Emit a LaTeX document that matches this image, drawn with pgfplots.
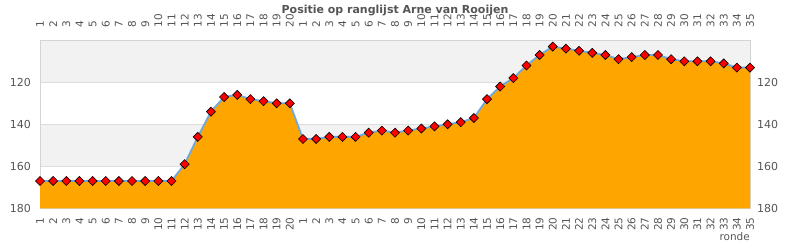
\documentclass[border=0pt]{standalone}
\usepackage{fontspec}
\setmainfont{DejaVu Sans}
\usepackage{pgfplots}
\pgfplotsset{compat=1.18}
\usepackage{pgfplotstable}
\definecolor{bandgray}{HTML}{F2F2F2}
\definecolor{gridgray}{HTML}{DCDCDC}
\definecolor{axgray}{HTML}{D4D4D4}
\definecolor{txtgray}{HTML}{555555}
\definecolor{areaorange}{HTML}{FFA500}
\definecolor{lineblue}{HTML}{6FA8DC}
\pgfplotstableread{
x y
1 167
2 167
3 167
4 167
5 167
6 167
7 167
8 167
9 167
10 167
11 167
12 159
13 146
14 134
15 127
16 126
17 128
18 129
19 130
20 130
21 147
22 147
23 146
24 146
25 146
26 144
27 143
28 144
29 143
30 142
31 141
32 140
33 139
34 137
35 128
36 122
37 118
38 112
39 107
40 103
41 104
42 105
43 106
44 107
45 109
46 108
47 107
48 107
49 109
50 110
51 110
52 110
53 111
54 113
55 113
}\data
\pgfplotsset{
  common/.style={
    scale only axis, width=710pt, height=168pt,
    xmin=1, xmax=55, ymin=100, ymax=180, y dir=reverse,
    xtick={1,...,55}, ytick={120,140,160,180},
    xticklabels={1,2,3,4,5,6,7,8,9,10,11,12,13,14,15,16,17,18,19,20,1,2,3,4,5,6,7,8,9,10,11,12,13,14,15,16,17,18,19,20,21,22,23,24,25,26,27,28,29,30,31,32,33,34,35},
    major tick length=0pt,
    axis line style={draw=axgray},
    tick label style={font=\fontsize{10.5}{11}\selectfont, text=txtgray, inner sep=0pt},
    y tick label style={font=\fontsize{11}{12}\selectfont},
    /pgf/number format/assume math mode=true,
    clip=true,
  }
}
\begin{document}
\begin{tikzpicture}
\begin{axis}[common, name=ax, set layers,
  xticklabel pos=bottom, yticklabel pos=left,
  x tick label style={rotate=90, anchor=east},
  xticklabel shift=9pt, yticklabel shift=9pt,
  ymajorgrids, grid style={draw=gridgray, line width=0.8pt},
  xlabel={ronde},
  xlabel style={at={(rel axis cs:1,0)}, anchor=north east, yshift=-24.5pt, inner sep=0pt, font=\fontsize{10.5}{11}\selectfont, text=txtgray},
]
\begin{pgfonlayer}{axis background}
\fill[bandgray] (axis cs:1,100) rectangle (axis cs:55,120);
\fill[bandgray] (axis cs:1,140) rectangle (axis cs:55,160);
\end{pgfonlayer}
\addplot[draw=none, fill=areaorange] table[x=x,y=y] {\data} -- (axis cs:55,180) -- (axis cs:1,180) -- cycle;
\addplot[lineblue, line width=1.8pt, mark=square*, mark size=3.2pt,
  mark options={rotate=45, fill=red, draw=black, line width=0.6pt}] table[x=x,y=y] {\data};
\end{axis}
\begin{axis}[common,
  xticklabel pos=top, yticklabel pos=right,
  x tick label style={rotate=90, anchor=west},
  xticklabel shift=13pt, yticklabel shift=7pt,
  axis line style={draw=none},
  title={\textbf{Positie op ranglijst Arne van Rooijen}},
  title style={at={(rel axis cs:0.5,1)}, anchor=south, yshift=18pt, inner sep=0pt, font=\fontsize{11}{12}\selectfont, text=txtgray},
]
\end{axis}
\pgfresetboundingbox
\path ([shift={(-40pt,-41.7pt)}]ax.south west) rectangle ([shift={(40pt,40.3pt)}]ax.north east);
\end{tikzpicture}
\end{document}
